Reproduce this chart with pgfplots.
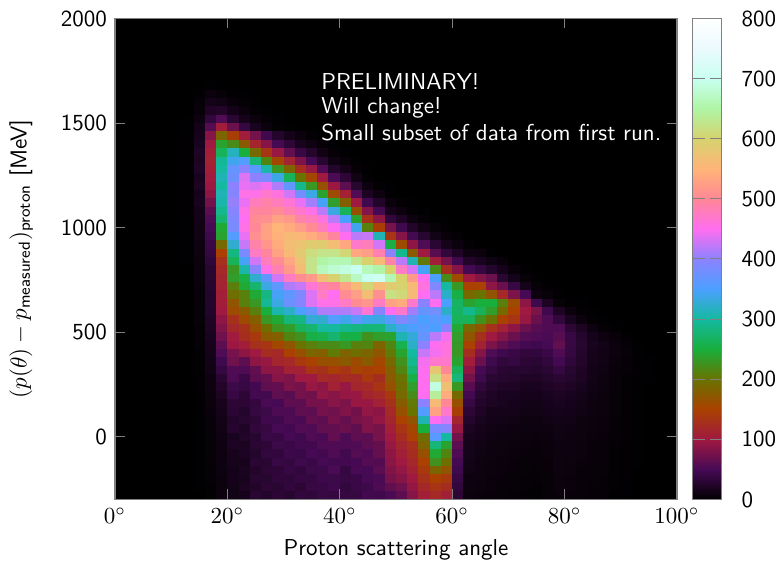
\documentclass[border=0pt]{standalone}
\usepackage{pgfplots}
\usepackage{pgfplotstable}
\pgfplotsset{compat=1.18}
\definecolor{fr}{RGB}{128,128,128}
\pgfplotstableread{
y c12 c14 c16 c18 c20 c22 c24 c26 c28 c30 c32 c34 c36 c38 c40 c42 c44 c46 c48 c50 c52 c54 c56 c58 c60 c62 c64 c66 c68 c70 c72 c74 c76 c78 c80 c82 c84 c86 c88 c90 c92 c94 c96 c98
1700 0 0 1  0 0 0 0 0 0 0 0 0 0  0 0 0 0 0 0 0 0 0 0  0 0 0 0 0 0 0 0 0 0  0 0 0 0 0 0 0 0 0 0 0
1660 0 2 8  5 2 1 0 0 0 0 0 0 0  0 0 0 0 0 0 0 0 0 0  0 0 0 0 0 0 0 0 0 0  0 0 0 0 0 0 0 0 0 0 0
1620 0 4 15  12 6 3 1 0 0 0 0 0 0  0 0 0 0 0 0 0 0 0 0  0 0 0 0 0 0 0 0 0 0  0 0 0 0 0 0 0 0 0 0 0
1580 0 6 22  24 14 7 3 1 0 0 0 0 0  0 0 0 0 0 0 0 0 0 0  0 0 0 0 0 0 0 0 0 0  0 0 0 0 0 0 0 0 0 0 0
1540 1 10 36  55 30 16 8 4 1 0 0 0 0  0 0 0 0 0 0 0 0 0 0  0 0 0 0 0 0 0 0 0 0  0 0 0 0 0 0 0 0 0 0 0
1500 1 14 58  105 70 38 18 8 3 1 0 0 0  0 0 0 0 0 0 0 0 0 0  0 0 0 0 0 0 0 0 0 0  0 0 0 0 0 0 0 0 0 0 0
1460 2 16 85  185 145 105 75 45 26 15 8 3 1  0 0 0 0 0 0 0 0 0 0  0 0 0 0 0 0 0 0 0 0  0 0 0 0 0 0 0 0 0 0 0
1420 2 18 100  240 220 175 115 85 50 33 18 11 4  1 0 0 0 0 0 0 0 0 0  0 0 0 0 0 0 0 0 0 0  0 0 0 0 0 0 0 0 0 0 0
1380 2 22 108  265 315 250 190 135 95 65 40 26 12  4 1 0 0 0 0 0 0 0 0  0 0 0 0 0 0 0 0 0 0  0 0 0 0 0 0 0 0 0 0 0
1340 2 20 112  295 340 355 280 215 155 112 80 50 28  11 5 1 0 0 0 0 0 0 0  0 0 0 0 0 0 0 0 0 0  0 0 0 0 0 0 0 0 0 0 0
1300 2 22 108  300 370 400 360 305 230 185 125 95 55  26 14 4 1 0 0 0 0 0 0  0 0 0 0 0 0 0 0 0 0  0 0 0 0 0 0 0 0 0 0 0
1260 2 18 102  310 375 435 400 385 335 265 200 155 100  52 32 12 3 0 0 0 0 0 0  0 0 0 0 0 0 0 0 0 0  0 0 0 0 0 0 0 0 0 0 0
1220 2 20 98  300 400 440 435 445 415 365 290 230 165  97 62 28 9 3 1 0 0 0 0  0 0 0 0 0 0 0 0 0 0  0 0 0 0 0 0 0 0 0 0 0
1180 2 16 90  310 395 455 455 470 460 430 380 335 240  160 110 55 20 10 2 0 0 0 0  0 0 0 0 0 0 0 0 0 0  0 0 0 0 0 0 0 0 0 0 0
1140 2 18 75  305 405 440 480 490 480 465 440 410 345  235 180 100 45 24 7 3 1 0 0  0 0 0 0 0 0 0 0 0 0  0 0 0 0 0 0 0 0 0 0 0
1100 2 14 62  290 395 455 495 495 505 485 470 455 420  335 265 165 85 48 16 8 3 1 0  0 0 0 0 0 0 0 0 0 0  0 0 0 0 0 0 0 0 0 0 0
1060 1 14 55  275 390 450 505 510 530 520 490 480 460  420 350 240 130 90 35 22 9 4 1  0 0 0 0 0 0 0 0 0 0  0 0 0 0 0 0 0 0 0 0 0
1020 1 12 50  245 385 455 500 530 550 540 525 505 480  450 430 340 210 145 77 45 24 12 5  2 0 0 0 0 0 0 0 0 0  0 0 0 0 0 0 0 0 0 0 0
980 1 12 46  240 355 440 510 530 545 560 555 540 525  495 450 420 425 310 135 85 48 28 13  6 3 0 0 0 0 0 0 0 0  0 0 0 0 0 0 0 0 0 0 0
940 1 10 42  190 325 425 490 515 540 565 575 590 590  565 535 470 480 430 255 160 90 55 30  15 8 3 0 0 0 0 0 0 0  0 0 0 0 0 0 0 0 0 0 0
900 1 10 38  150 285 385 475 495 530 560 585 615 625  625 605 535 525 485 400 290 175 100 60  35 22 10 8 1 0 0 0 0 0  0 0 0 0 0 0 0 0 0 0 0
860 1 8 34  130 265 345 430 480 505 535 575 625 650  660 660 630 600 560 490 420 310 205 105  75 45 24 18 11 6 0 0 0 0  0 0 0 0 0 0 0 0 0 0 0
820 0 8 30  120 230 305 395 455 485 520 565 625 665  680 690 700 665 650 600 475 430 345 220  125 85 48 38 26 16 6 2 0 0  0 0 0 0 0 0 0 0 0 0 0
780 0 7 28  115 235 255 325 365 430 475 505 520 565  600 630 670 700 710 660 600 520 450 350  220 160 100 85 70 30 15 5 2 0  0 0 0 0 0 0 0 0 0 0 0
740 0 6 27  112 210 245 275 335 365 415 425 465 485  495 530 560 605 560 590 600 560 460 390  300 230 150 150 90 70 40 15 5 2  0 0 0 0 0 0 0 0 0 0 0
700 0 6 26  108 195 210 245 285 345 365 390 435 475  450 505 525 565 510 620 610 560 450 420  320 255 190 200 170 120 80 50 10 5  2 0 0 0 0 0 0 0 0 0 0
660 0 5 26  105 170 210 230 295 335 375 395 435 455  455 475 505 515 475 530 540 470 400 450  350 270 240 250 250 210 160 90 45 20  5 2 1 0 0 0 0 0 0 0 0
620 0 5 25  100 160 175 210 250 305 320 350 370 415  415 415 425 465 395 450 470 410 370 380  320 270 290 265 235 190 150 100 80 45  20 8 3 1 0 0 0 0 0 0 0
580 0 5 22  90 130 160 180 230 245 280 285 330 325  355 340 365 340 335 360 390 370 350 360  350 265 265 225 200 150 135 95 70 55  35 18 8 3 1 0 0 0 0 0 0
540 0 4 20  82 118 130 165 195 225 235 265 275 300  300 290 285 280 280 320 340 350 360 350  400 245 190 170 130 110 90 70 60 55  55 32 20 10 4 1 0 0 0 0 0
500 0 4 18  72 102 125 140 175 180 215 225 255 260  275 255 255 225 235 240 310 330 370 420  445 235 170 130 100 85 70 58 55 52  60 40 26 16 10 6 2 0 0 0 0
460 0 4 16  62 98 105 130 135 155 170 200 210 220  220 230 210 215 185 215 260 320 400 450  460 232 150 110 80 65 55 48 45 50  65 40 28 18 13 8 4 1 0 0 0
420 0 3 15  55 78 90 100 125 120 150 165 185 180  205 185 195 185 170 205 240 300 425 445  460 230 125 85 55 45 42 35 36 42  55 38 26 16 12 8 5 2 0 0 0
380 0 3 13  45 72 62 90 95 115 120 140 150 165  165 175 160 175 155 190 225 290 445 470  470 240 105 70 45 35 38 32 30 36  48 34 24 15 12 7 4 2 1 0 0
340 0 3 12  38 55 55 66 90 90 110 110 135 130  145 135 155 145 150 180 215 275 450 580  500 265 90 50 38 30 28 28 26 30  38 28 22 14 11 6 4 2 1 0 0
300 0 2 10  30 54 42 62 68 86 80 100 100 120  115 125 120 140 125 175 200 255 450 620  540 280 75 45 30 28 26 22 22 26  30 26 20 13 10 6 3 2 1 0 0
260 0 2 10  24 43 40 47 64 66 80 75 95 90  110 95 115 120 135 165 195 235 450 690  570 230 60 35 26 22 22 18 18 22  24 22 18 12 9 6 3 2 0 0 0
220 0 2 8  20 40 32 48 48 64 60 76 74 92  86 94 96 114 120 140 190 220 450 640  540 190 48 28 22 18 18 16 16 18  20 18 15 11 8 5 3 1 0 0 0
180 0 2 8  17 32 32 37 52 50 64 62 76 76  86 80 96 96 110 130 178 205 400 560  500 165 40 25 20 18 16 14 13 16  18 16 13 10 8 5 3 1 0 0 0
140 0 1 7  15 31 26 38 43 54 54 64 62 76  72 82 74 92 88 120 165 200 355 530  470 145 32 22 15 15 15 12 12 14  16 14 12 9 8 5 3 1 0 0 0
100 0 1 6  13 25 28 33 46 45 55 53 66 62  76 68 78 82 92 115 150 170 310 450  435 115 26 18 14 13 12 10 10 12  14 13 10 8 7 4 3 1 0 0 0
60 0 1 6  12 27 22 35 39 49 47 56 55 65  65 70 64 82 78 108 135 155 250 385  395 95 20 16 12 11 10 9 9 10  12 11 10 8 7 4 3 1 0 0 0
20 0 1 5  11 18 24 28 41 40 49 45 55 53  66 54 64 62 78 100 125 150 195 360  300 75 17 14 11 10 9 8 7 8  11 10 9 7 6 4 3 1 0 0 0
-20 0 1 5  10 21 19 30 33 43 42 47 47 55  55 55 55 63 67 95 115 130 185 280  240 62 15 12 10 9 8 7 6 7  10 9 8 6 6 3 2 1 0 0 0
-60 0 1 5  10 17 21 26 36 36 44 41 49 47  55 47 58 55 68 90 108 125 165 245  215 55 15 11 9 8 7 6 5 7  10 9 8 6 6 3 2 1 0 0 0
-100 0 1 4  9 17 17 30 30 40 38 45 42 50  47 47 49 58 57 88 100 118 150 225  195 50 13 10 8 7 6 5 5 6  9 8 7 6 5 3 2 1 0 0 0
-140 0 1 4  9 14 19 24 32 33 40 36 43 43  53 38 51 49 61 82 92 110 140 185  170 45 12 10 8 7 6 5 4 6  9 8 6 5 5 3 2 0 0 0 0
-180 0 1 4  8 16 18 28 28 34 34 38 38 44  43 40 42 50 52 78 85 100 130 150  140 40 10 9 7 6 5 4 4 5  8 7 6 5 4 3 2 0 0 0 0
-220 0 1 3  8 13 20 24 32 30 36 32 40 40  44 36 42 44 54 65 72 92 118 135  125 35 10 8 7 5 5 4 3 5  8 7 6 4 4 3 1 0 0 0 0
-260 0 0 3  8 13 16 30 26 32 28 36 34 40  38 38 38 47 46 52 62 85 108 120  108 32 8 7 6 5 4 3 3 5  7 6 5 4 4 2 1 0 0 0 0
-300 0 0 3  8 12 18 28 28 30 30 34 36 38  40 36 40 45 48 52 62 85 108 120  108 32 8 7 6 5 4 3 3 5  7 6 5 4 4 2 1 0 0 0 0
}\cells
\begin{document}
\begin{tikzpicture}
\path[use as bounding box] (-50pt,-26.74pt) rectangle (288.26pt,217.17pt);
\begin{axis}[
  scale only axis, width=244.35pt, height=209.13pt,
  xmin=0, xmax=100, ymin=-300, ymax=2000,
  axis background/.style={fill=black},
  axis on top,
  axis line style={fr, line width=0.7pt},
  tick style={fr, line width=0.45pt},
  tick align=inside, tick pos=both, major tick length=4.35pt,
  xticklabel pos=bottom, yticklabel pos=left,
  xtick={0,20,40,60,80,100},
  xticklabels={$0^\circ$,$20^\circ$,$40^\circ$,$60^\circ$,$80^\circ$,$100^\circ$},
  ytick={0,500,1000,1500,2000},
  yticklabel style={font=\sffamily, /pgf/number format/assume math mode=true, /pgf/number format/1000 sep={}},
  xlabel={\sffamily Proton scattering angle},
  ylabel={$(p(\theta)-p_{\mathsf{measured}})_{\mathsf{proton}}$ \textsf{[MeV]}},
  ylabel shift=5.2pt,
  point meta min=0, point meta max=800,
  colormap={ch}{rgb255=(0,0,0) rgb255=(70,10,85) rgb255=(160,25,65) rgb255=(170,65,0) rgb255=(105,115,0) rgb255=(25,175,60) rgb255=(20,185,160) rgb255=(75,160,255) rgb255=(140,130,255) rgb255=(255,110,240) rgb255=(255,135,150) rgb255=(255,180,120) rgb255=(215,210,110) rgb255=(175,245,165) rgb255=(200,255,240) rgb255=(235,250,255) rgb255=(255,255,255)},
  colorbar,
  colorbar style={
    at={(parent axis.north east)}, anchor=north west, xshift=-1.74pt,
    width=12.6pt, height=209.13pt,
    axis line style={fr, line width=0.7pt},
    tick style={fr, line width=0.45pt},
    ytick={0,100,...,800}, tick align=inside, major tick length=5.2pt,
    ytick pos=both, yticklabel pos=right,
    yticklabel style={xshift=5.2pt, font=\sffamily, /pgf/number format/assume math mode=true, /pgf/number format/1000 sep={}},
  },
]
\pgfplotsinvokeforeach{12,14,...,98}{
  \addplot[mesh, shader=flat corner, line width=4.95pt, forget plot, point meta=\thisrow{c#1}] table[x expr=#1+1, y=y]{\cells};
}
\node[anchor=base west, inner sep=0pt, text=white, font=\sffamily] at (axis cs:36.65,1660) {PRELIMINARY!};
\node[anchor=base west, inner sep=0pt, text=white, font=\sffamily] at (axis cs:36.65,1545) {Will change!};
\node[anchor=base west, inner sep=0pt, text=white, font=\sffamily] at (axis cs:36.65,1415) {Small subset of data from first run.};
\end{axis}
\end{tikzpicture}
\end{document}
